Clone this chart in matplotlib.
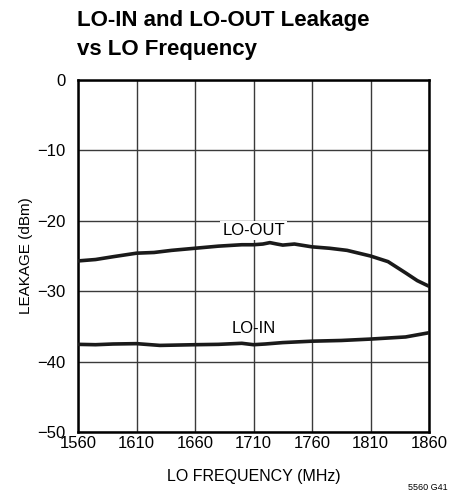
import matplotlib
matplotlib.use("Agg")
import matplotlib.pyplot as plt

plt.rcParams['font.family'] = ['Liberation Sans', 'DejaVu Sans']

# LO frequency (MHz)
freq_out = [1560, 1575, 1590, 1610, 1625, 1640, 1660, 1680, 1700, 1710,
            1718, 1724, 1730, 1735, 1745, 1760, 1775, 1790, 1810, 1825,
            1840, 1850, 1860]
# LO-OUT leakage (dBm)
lo_out = [-25.7, -25.5, -25.1, -24.6, -24.5, -24.2, -23.9, -23.6, -23.4, -23.4,
          -23.3, -23.1, -23.3, -23.45, -23.3, -23.7, -23.9, -24.2, -25.0, -25.8,
          -27.4, -28.5, -29.3]

freq_in = [1560, 1575, 1590, 1610, 1630, 1660, 1680, 1700, 1710, 1720,
           1735, 1760, 1785, 1810, 1840, 1860]
# LO-IN leakage (dBm)
lo_in = [-37.55, -37.6, -37.5, -37.45, -37.7, -37.6, -37.55, -37.4, -37.6, -37.5,
         -37.3, -37.1, -37.0, -36.8, -36.5, -35.9]

x_ticks = [1560, 1610, 1660, 1710, 1760, 1810, 1860]
y_ticks = [0, -10, -20, -30, -40, -50]
y_tick_labels = ['0', '\u221210', '\u221220', '\u221230', '\u221240', '\u221250']

fig = plt.figure(figsize=(4.5, 4.92), dpi=100)
ax = fig.add_axes([78/450, 60/492, 351/450, 352/492])

ax.plot(freq_out, lo_out, color='#1a1a1a', lw=2.6, solid_capstyle='round', zorder=3)
ax.plot(freq_in, lo_in, color='#1a1a1a', lw=2.6, solid_capstyle='round', zorder=3)

ax.set_xlim(1560, 1860)
ax.set_ylim(-50, 0)
ax.set_xticks(x_ticks)
ax.set_xticklabels([str(t) for t in x_ticks])
ax.set_yticks(y_ticks)
ax.set_yticklabels(y_tick_labels)
ax.tick_params(length=0, labelsize=12, pad=3)
ax.tick_params(axis='y', pad=9)
ax.grid(True, color='#3a3a3a', lw=1.0)
ax.set_axisbelow(True)
for s in ax.spines.values():
    s.set_linewidth(1.8)
    s.set_color('black')

ax.text(1710, -21.4, 'LO-OUT', ha='center', va='center', fontsize=12,
        bbox=dict(facecolor='white', edgecolor='none', pad=1.5), zorder=4)
ax.text(1710, -35.3, 'LO-IN', ha='center', va='center', fontsize=12, zorder=4)

ax.set_xlabel('LO FREQUENCY (MHz)', fontsize=11.5, labelpad=13)
ax.set_ylabel('LEAKAGE (dBm)', fontsize=11, labelpad=3)

fig.text(77/450, 1 - 10/492, 'LO-IN and LO-OUT Leakage\nvs LO Frequency',
         ha='left', va='top', fontsize=16, fontweight='bold', linespacing=1.5)
fig.text(428/450, 1 - 487/492, '5560 G41', ha='center', va='center', fontsize=6.5)

fig.savefig('out.png', dpi=100)
